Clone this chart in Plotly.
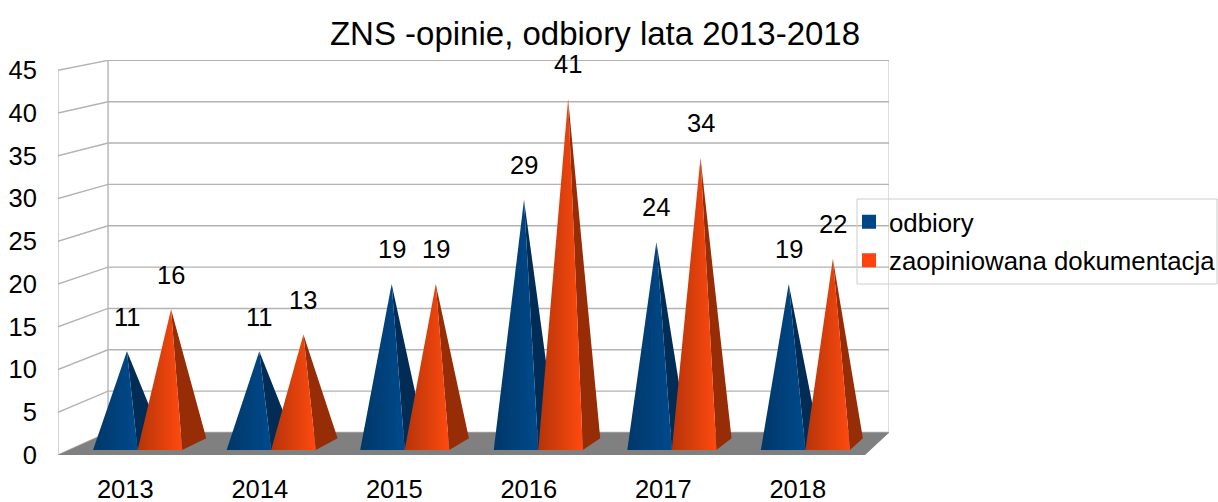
import plotly.graph_objects as go

years = ["2013", "2014", "2015", "2016", "2017", "2018"]
odbiory = [11, 11, 19, 29, 24, 19]
zaopiniowana = [16, 13, 19, 41, 34, 22]
y_ticks = [0, 5, 10, 15, 20, 25, 30, 35, 40, 45]
title = "ZNS -opinie, odbiory lata 2013-2018"

GRID = "#b3b3b3"
FLOOR = "#808080"
FONT = "Liberation Sans"
N = len(years)

# oblique projection: u = position along category axis (0..N), z = depth (0 front..1 back), v = value
def proj(u, z, v):
    x = u * (1 - 0.032 * z) + 0.372 * z - 0.5
    y = 2.63 * z + v * (1 - 0.0327 * z)
    return x, y

def poly(points):
    pts = [proj(*p) for p in points]
    return [p[0] for p in pts], [p[1] for p in pts]

fig = go.Figure()

def line(points, width=1.2):
    xs, ys = poly(points)
    fig.add_trace(go.Scatter(x=xs, y=ys, mode="lines", line=dict(color=GRID, width=width),
                             showlegend=False, hoverinfo="skip"))

for v in y_ticks:
    line([(0, 0, v), (0, 1, v), (N, 1, v)], 1.4)
line([(0, 0, 0), (0, 0, y_ticks[-1])])
line([(0, 1, 0), (0, 1, y_ticks[-1])], 1.4)
line([(N, 1, 0), (N, 1, y_ticks[-1])], 1.4)

xs, ys = poly([(0, 0, 0), (0, 1, 0), (N, 1, 0), (N, 0, 0), (0, 0, 0)])
fig.add_trace(go.Scatter(x=xs, y=ys, mode="lines", fill="toself", fillcolor=FLOOR,
                         line=dict(width=0, color=FLOOR), showlegend=False, hoverinfo="skip"))

Z_FRONT, Z_BACK, Z_MID = 0.22, 0.74, 0.5
GROUP_LEFT, BAR_W = 0.18, 0.3335
APEX_SHIFT = -0.015

def pyramid(u0, value, side, dark, bright):
    u1 = u0 + BAR_W
    um = u0 + BAR_W / 2 + APEX_SHIFT
    xs, ys = poly([(u1, Z_FRONT, 0), (u1, Z_BACK, 0), (um, Z_MID, value), (u1, Z_FRONT, 0)])
    fig.add_trace(go.Scatter(x=xs, y=ys, mode="lines", fill="toself", fillcolor=side,
                             line=dict(width=0, color=side), showlegend=False, hoverinfo="skip"))
    xs, ys = poly([(u0, Z_FRONT, 0), (u1, Z_FRONT, 0), (um, Z_MID, value), (u0, Z_FRONT, 0)])
    fig.add_trace(go.Scatter(x=xs, y=ys, mode="lines", fill="toself",
                             fillgradient=dict(type="horizontal", colorscale=[[0, dark], [1, bright]]),
                             line=dict(width=0, color=bright), showlegend=False, hoverinfo="skip"))
    ax, ay = proj(um, Z_MID, value)
    fig.add_annotation(x=ax, y=ay, text=str(value), showarrow=False, xanchor="center", yanchor="middle",
                       yshift=34.5, font=dict(family=FONT, size=25.5, color="#000000"))

for i in range(N):
    pyramid(i + GROUP_LEFT, odbiory[i], "#002c55", "#003768", "#004a8c")
    pyramid(i + GROUP_LEFT + BAR_W, zaopiniowana[i], "#962d07", "#b53409", "#ff4a0f")

for name, col in [("odbiory", "#004586"), ("zaopiniowana dokumentacja", "#ff420e")]:
    fig.add_trace(go.Scatter(x=[None], y=[None], mode="markers", name=name, legendgroup=name,
                             marker=dict(symbol="square", size=16, color=col, line=dict(color=col, width=3))))

fig.update_layout(
    width=1218, height=502, autosize=False,
    margin=dict(l=58, r=329, t=60, b=47, autoexpand=False),
    paper_bgcolor="white", plot_bgcolor="white",
    font=dict(family=FONT, size=25.5, color="#000000"),
    title=dict(text=title, x=595 / 1218, xanchor="center", y=1 - 33 / 502, yanchor="middle",
               font=dict(family=FONT, size=33, color="#000000")),
    xaxis=dict(range=[-0.5, 5.678], tickvals=list(range(N)), ticktext=years, showgrid=False, zeroline=False,
               showline=False, ticks="outside", ticklen=11, tickcolor="rgba(0,0,0,0)", tickwidth=0),
    yaxis=dict(range=[0, 46.2], tickvals=y_ticks, showgrid=False, zeroline=False, showline=False,
               ticks="outside", ticklen=15, tickcolor="rgba(0,0,0,0)", tickwidth=0),
    legend=dict(x=(849 - 58) / 831, xanchor="left", y=1 - (198.5 - 60) / 395, yanchor="top",
                bgcolor="rgba(0,0,0,0)", borderwidth=0,
                font=dict(family=FONT, size=25.8), tracegroupgap=2, itemsizing="constant"),
    shapes=[dict(type="rect", xref="paper", yref="paper",
                 x0=(857 - 58) / 831, x1=(1217 - 58) / 831, y0=(455 - 199) / 395, y1=(455 - 284) / 395,
                 line=dict(color="#cccccc", width=1), fillcolor="rgba(0,0,0,0)", layer="above")],
    hovermode=False,
)
fig.write_html("out.html", config={"displayModeBar": False},
               post_script="document.body.style.margin='0';document.documentElement.style.overflow='hidden';")
